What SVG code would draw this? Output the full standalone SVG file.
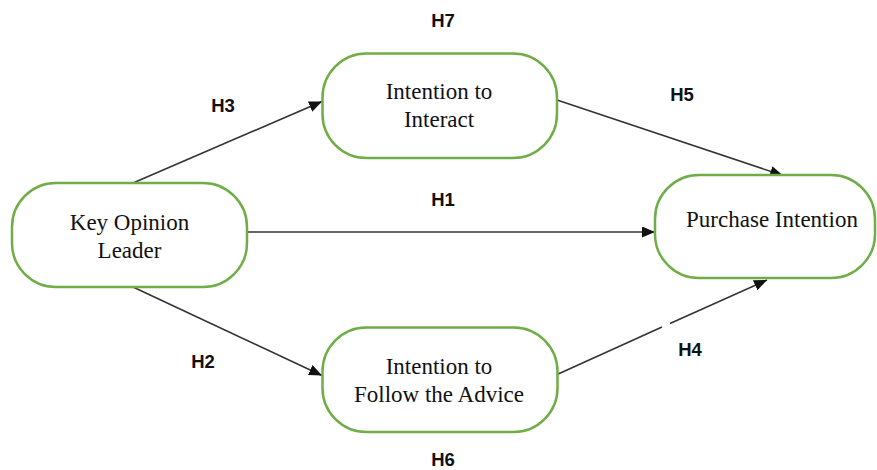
<svg xmlns="http://www.w3.org/2000/svg" width="877" height="470" viewBox="0 0 877 470">
<style>
.node{fill:#ffffff;stroke:#70AD47;stroke-width:2.5}
.nt{font-family:"Liberation Serif","Times New Roman",serif;font-size:23px;fill:#111;text-anchor:middle}
.lbl{font-family:"Liberation Sans",Arial,sans-serif;font-weight:bold;font-size:18.5px;fill:#111;text-anchor:middle}
.edge{stroke:#333;stroke-width:1.6;fill:none}
</style>
<defs>
<marker id="arr" markerUnits="userSpaceOnUse" markerWidth="14" markerHeight="12" refX="13" refY="5.5" orient="auto">
<path d="M0,0 L13,5.5 L0,11 z" fill="#111"/>
</marker>
</defs>
<g id="connectors">
<line class="edge" x1="133" y1="183" x2="322" y2="101.5" marker-end="url(#arr)"/>
<line class="edge" x1="247" y1="232" x2="655" y2="232" marker-end="url(#arr)"/>
<line class="edge" x1="133" y1="287" x2="322" y2="375.5" marker-end="url(#arr)"/>
<line class="edge" x1="557" y1="100" x2="783" y2="175.5" marker-end="url(#arr)"/>
<line class="edge" x1="556" y1="375" x2="662" y2="327"/>
<line class="edge" x1="670" y1="323.5" x2="767" y2="280" marker-end="url(#arr)"/>
</g>
<g id="kol">
<rect class="node" x="12" y="183" width="235" height="104" rx="44" ry="44"/>
<text class="nt" x="129.5" y="230">Key Opinion</text>
<text class="nt" x="129.5" y="258">Leader</text>
</g>
<g id="interact">
<rect class="node" x="322.5" y="53.5" width="234.5" height="104.5" rx="44" ry="44"/>
<text class="nt" x="439" y="99">Intention to</text>
<text class="nt" x="439" y="127">Interact</text>
</g>
<g id="purchase">
<rect class="node" x="655" y="175" width="220" height="103" rx="44" ry="44"/>
<text class="nt" x="772" y="227" font-size="24">Purchase Intention</text>
</g>
<g id="follow">
<rect class="node" x="322.5" y="327.5" width="235" height="104.5" rx="44" ry="44"/>
<text class="nt" x="439" y="374">Intention to</text>
<text class="nt" x="439" y="402">Follow the Advice</text>
</g>
<g id="labels">
<text class="lbl" x="443" y="27">H7</text>
<text class="lbl" x="223" y="112">H3</text>
<text class="lbl" x="682" y="101">H5</text>
<text class="lbl" x="443" y="206">H1</text>
<text class="lbl" x="203" y="368">H2</text>
<text class="lbl" x="690" y="356">H4</text>
<text class="lbl" x="443" y="466">H6</text>
</g>
</svg>
